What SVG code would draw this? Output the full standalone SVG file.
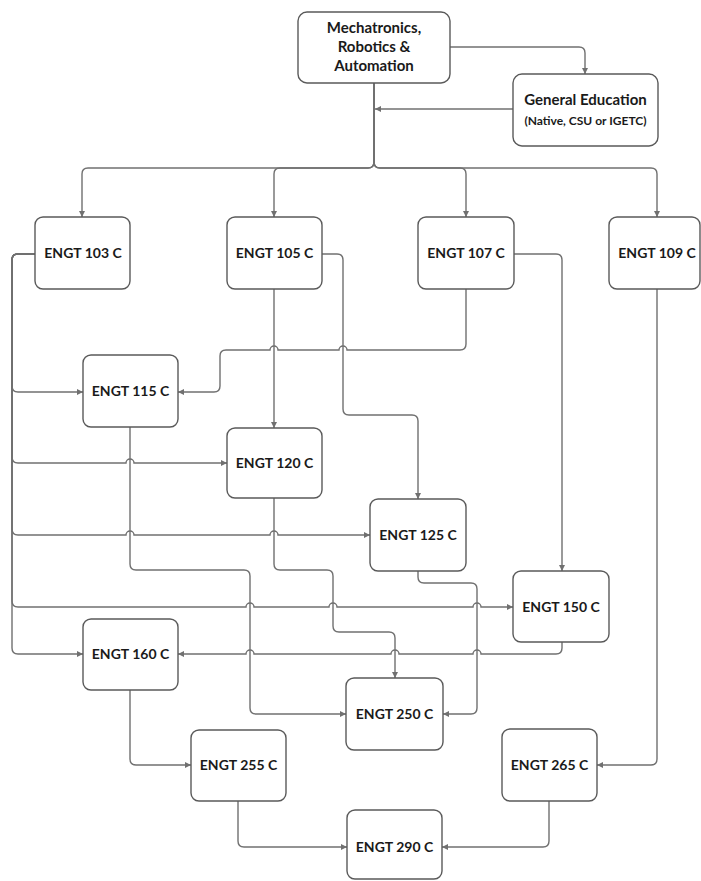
<svg xmlns="http://www.w3.org/2000/svg" width="701" height="881" viewBox="0 0 701 881">
<defs>
<style>
.box{fill:#ffffff;stroke:#5a5a5a;stroke-width:1.4}
.lbl{font-family:Lato,"Liberation Sans",sans-serif;font-weight:bold;font-size:15px;fill:#1a1a1a;text-anchor:middle}
.eng{font-size:14px}
.sub{font-size:12px}
.c{fill:none;stroke:#707070;stroke-width:1.4}
</style>
<marker id="ah" viewBox="0 0 10 10" refX="10" refY="5" markerWidth="7" markerHeight="6" markerUnits="userSpaceOnUse" orient="auto">
<path d="M0,0 L10,5 L0,10 z" fill="#707070"/>
</marker>
</defs>
<rect width="701" height="881" fill="#ffffff"/>
<g id="connectors">
<path class="c" marker-end="url(#ah)" d="M450,47 H579 Q585,47 585,53 V74"/>
<path class="c" marker-end="url(#ah)" d="M513,109 H375"/>
<path class="c" marker-end="url(#ah)" d="M374,83 V162 Q374,168 368,168 H88 Q82,168 82,174 V217"/>
<path class="c" marker-end="url(#ah)" d="M374,83 V162 Q374,168 368,168 H280 Q274,168 274,174 V217"/>
<path class="c" marker-end="url(#ah)" d="M374,83 V162 Q374,168 380,168 H460 Q466,168 466,174 V217"/>
<path class="c" marker-end="url(#ah)" d="M374,83 V162 Q374,168 380,168 H651 Q657,168 657,174 V217"/>
<path class="c" marker-end="url(#ah)" d="M35,254 H18 Q12,254 12,260 V386 Q12,392 18,392 H83"/>
<path class="c" marker-end="url(#ah)" d="M35,254 H18 Q12,254 12,260 V457 Q12,463 18,463 H126 a4,4 0 0 1 8,0 H227"/>
<path class="c" marker-end="url(#ah)" d="M35,254 H18 Q12,254 12,260 V529 Q12,535 18,535 H126 a4,4 0 0 1 8,0 H270 a4,4 0 0 1 8,0 H370"/>
<path class="c" marker-end="url(#ah)" d="M35,254 H18 Q12,254 12,260 V601 Q12,607 18,607 H246 a4,4 0 0 1 8,0 H329 a4,4 0 0 1 8,0 H473 a4,4 0 0 1 8,0 H513"/>
<path class="c" marker-end="url(#ah)" d="M35,254 H18 Q12,254 12,260 V648 Q12,654 18,654 H83"/>
<path class="c" marker-end="url(#ah)" d="M274,289 V428"/>
<path class="c" marker-end="url(#ah)" d="M322,254 H337 Q343,254 343,260 V409 Q343,415 349,415 H412 Q418,415 418,421 V499"/>
<path class="c" marker-end="url(#ah)" d="M514,254 H556 Q562,254 562,260 V571"/>
<path class="c" marker-end="url(#ah)" d="M466,289 V344 Q466,350 460,350 H347 a4,4 0 0 0 -8,0 H278 a4,4 0 0 0 -8,0 H226 Q220,350 220,356 V386 Q220,392 214,392 H178"/>
<path class="c" marker-end="url(#ah)" d="M657,289 V759 Q657,765 651,765 H597"/>
<path class="c" marker-end="url(#ah)" d="M130,427 V564 Q130,570 136,570 H244 Q250,570 250,576 V708 Q250,714 256,714 H346"/>
<path class="c" marker-end="url(#ah)" d="M274,498 V564 Q274,570 280,570 H327 Q333,570 333,576 V626 Q333,632 339,632 H389 Q395,632 395,638 V678"/>
<path class="c" marker-end="url(#ah)" d="M418,571 V577 Q418,583 424,583 H471 Q477,583 477,589 V708 Q477,714 471,714 H443"/>
<path class="c" marker-end="url(#ah)" d="M562,642 V648 Q562,654 556,654 H481 a4,4 0 0 0 -8,0 H399 a4,4 0 0 0 -8,0 H254 a4,4 0 0 0 -8,0 H178"/>
<path class="c" marker-end="url(#ah)" d="M130,690 V759 Q130,765 136,765 H191"/>
<path class="c" marker-end="url(#ah)" d="M238,801 V841 Q238,847 244,847 H347"/>
<path class="c" marker-end="url(#ah)" d="M549,801 V841 Q549,847 543,847 H442"/>
</g>
<g id="mech">
<rect class="box" x="298" y="12" width="152" height="71" rx="9"/>
<text class="lbl" x="374" y="33">Mechatronics,</text>
<text class="lbl" x="374" y="52">Robotics &amp;</text>
<text class="lbl" x="374" y="71">Automation</text>
</g>
<g id="gened">
<rect class="box" x="513" y="74" width="145" height="72" rx="9"/>
<text class="lbl" x="585.5" y="105">General Education</text>
<text class="lbl sub" x="585.5" y="125">(Native, CSU or IGETC)</text>
</g>
<g id="engt103"><rect class="box" x="35" y="217" width="95" height="72" rx="8"/><text class="lbl eng" x="83" y="258">ENGT 103 C</text></g>
<g id="engt105"><rect class="box" x="227" y="217" width="95" height="72" rx="8"/><text class="lbl eng" x="274.5" y="258">ENGT 105 C</text></g>
<g id="engt107"><rect class="box" x="418" y="217" width="96" height="72" rx="8"/><text class="lbl eng" x="466" y="258">ENGT 107 C</text></g>
<g id="engt109"><rect class="box" x="609" y="217" width="91" height="72" rx="8"/><text class="lbl eng" x="657" y="258">ENGT 109 C</text></g>
<g id="engt115"><rect class="box" x="83" y="355" width="95" height="72" rx="8"/><text class="lbl eng" x="130.5" y="396">ENGT 115 C</text></g>
<g id="engt120"><rect class="box" x="227" y="428" width="95" height="70" rx="8"/><text class="lbl eng" x="274.5" y="468">ENGT 120 C</text></g>
<g id="engt125"><rect class="box" x="370" y="499" width="96" height="72" rx="8"/><text class="lbl eng" x="418" y="540">ENGT 125 C</text></g>
<g id="engt150"><rect class="box" x="513" y="571" width="96" height="71" rx="8"/><text class="lbl eng" x="561" y="612">ENGT 150 C</text></g>
<g id="engt160"><rect class="box" x="83" y="619" width="95" height="71" rx="8"/><text class="lbl eng" x="130.5" y="659">ENGT 160 C</text></g>
<g id="engt250"><rect class="box" x="346" y="678" width="97" height="72" rx="8"/><text class="lbl eng" x="394.5" y="719">ENGT 250 C</text></g>
<g id="engt255"><rect class="box" x="191" y="730" width="95" height="71" rx="8"/><text class="lbl eng" x="238.5" y="770">ENGT 255 C</text></g>
<g id="engt265"><rect class="box" x="502" y="729" width="95" height="72" rx="8"/><text class="lbl eng" x="549.5" y="770">ENGT 265 C</text></g>
<g id="engt290"><rect class="box" x="347" y="810" width="95" height="69" rx="8"/><text class="lbl eng" x="394.5" y="852">ENGT 290 C</text></g>
</svg>
